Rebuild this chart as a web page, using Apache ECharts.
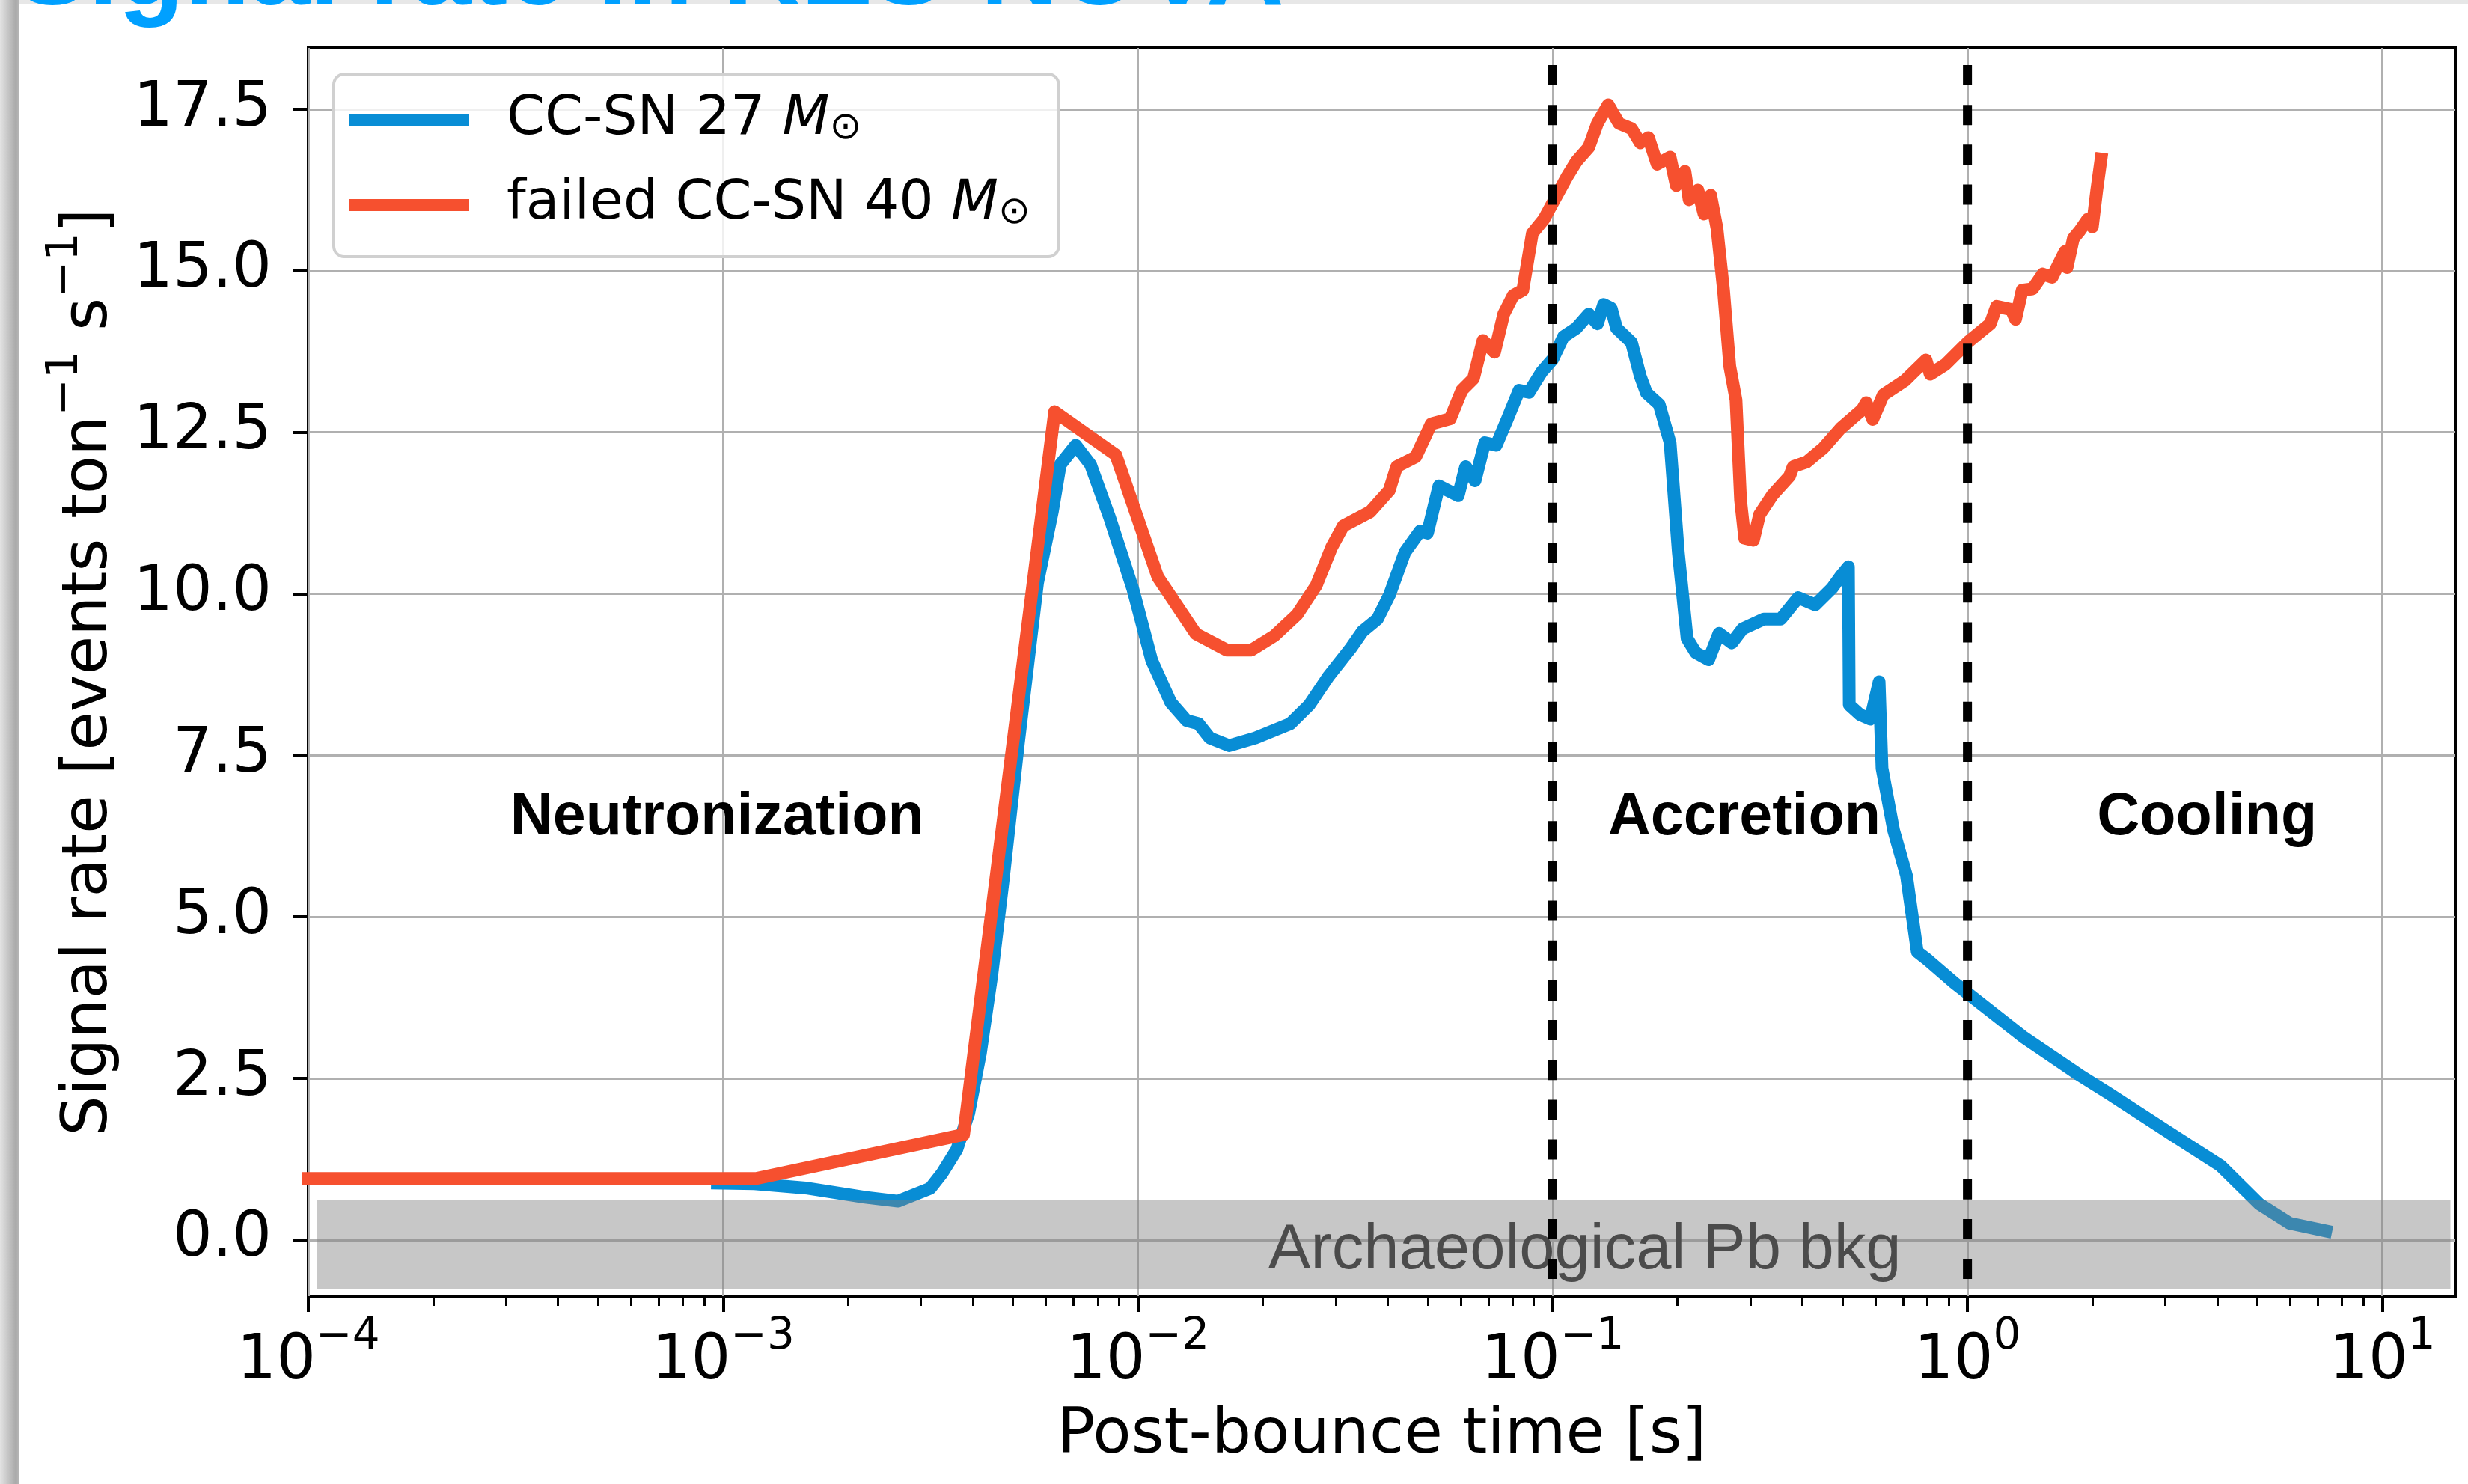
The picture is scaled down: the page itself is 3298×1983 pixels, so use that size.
<!DOCTYPE html>
<html>
<head>
<meta charset="utf-8">
<title>Signal rate in RES-NOVA</title>
<script src="https://cdn.jsdelivr.net/npm/echarts@6/dist/echarts.min.js"></script>
<style>
  html, body { margin: 0; padding: 0; background: #ffffff; }
  #chart { width: 3298px; height: 1983px; }
</style>
</head>
<body>
<div id="chart"></div>
<script>
// ---- data: post-bounce time [s] and signal rate [events ton^-1 s^-1] ----
const ccsnName = 'CC-SN 27 M⊙';
const ccsnTime = [
  0.000969, 0.00119, 0.0016, 0.0022, 0.00264, 0.00316, 0.00337, 0.00366, 0.00391, 0.00417,
  0.00444, 0.00473, 0.00515, 0.00573, 0.00622, 0.0065, 0.00708, 0.00769, 0.00855, 0.00973,
  0.0108, 0.012, 0.0131, 0.014, 0.0149, 0.0166, 0.0192, 0.0233, 0.0259, 0.0288,
  0.0327, 0.0348, 0.0378, 0.0404, 0.044, 0.0479, 0.0499, 0.0532, 0.0592, 0.0617,
  0.065, 0.0686, 0.0731, 0.0778, 0.083, 0.0877, 0.0942, 0.1, 0.1062, 0.114,
  0.1222, 0.1282, 0.1327, 0.1384, 0.1426, 0.1549, 0.1626, 0.1683, 0.1807, 0.1919,
  0.2009, 0.2109, 0.2213, 0.2377, 0.2518, 0.2704, 0.2871, 0.3228, 0.3548, 0.3908,
  0.4295, 0.472, 0.4943, 0.5164, 0.5188, 0.5508, 0.5834, 0.6124, 0.6223, 0.6637,
  0.7129, 0.7568, 0.8035, 0.929, 1.009, 1.358, 1.854, 2.188, 3.133, 4.074,
  5.047, 5.97, 7.31
];
const ccsnRate = [
  0.88, 0.87, 0.80, 0.66, 0.60, 0.80, 1.03, 1.40, 1.96, 2.88,
  4.08, 5.55, 7.68, 10.17, 11.27, 12.0, 12.3, 12.0, 11.18, 10.07,
  8.97, 8.32, 8.04, 7.99, 7.77, 7.65, 7.77, 7.99, 8.28, 8.72,
  9.17, 9.42, 9.61, 9.98, 10.64, 10.97, 10.94, 11.67, 11.52, 11.97,
  11.75, 12.34, 12.3, 12.71, 13.15, 13.12, 13.44, 13.63, 13.98, 14.11,
  14.33, 14.18, 14.48, 14.42, 14.11, 13.89, 13.37, 13.11, 12.93, 12.34,
  10.64, 9.31, 9.09, 8.98, 9.39, 9.24, 9.46, 9.61, 9.61, 9.94,
  9.83, 10.09, 10.27, 10.42, 8.28, 8.13, 8.06, 8.64, 7.30, 6.34,
  5.64, 4.46, 4.33, 3.98, 3.80, 3.15, 2.56, 2.27, 1.62, 1.15,
  0.56, 0.26, 0.14
];

const failedName = 'failed CC-SN 40 M⊙';
const failedTime = [
  0.0001, 0.0012, 0.0038, 0.0063, 0.00885, 0.01117, 0.0138, 0.01637, 0.01879, 0.02133,
  0.02421, 0.02692, 0.02931, 0.03126, 0.03631, 0.04036, 0.04207, 0.04677, 0.05093, 0.05662,
  0.0604, 0.06442, 0.06792, 0.07244, 0.07621, 0.08035, 0.08472, 0.08933, 0.09528, 0.1,
  0.1086, 0.114, 0.1222, 0.1282, 0.1361, 0.1445, 0.1549, 0.1626, 0.1702, 0.1786,
  0.1919, 0.1986, 0.2084, 0.2133, 0.2239, 0.2317, 0.2404, 0.2489, 0.2582, 0.2673,
  0.2767, 0.2838, 0.2904, 0.3048, 0.3155, 0.3388, 0.3724, 0.38, 0.4093, 0.4498,
  0.4943, 0.5572, 0.570, 0.591, 0.6266, 0.7063, 0.7943, 0.813, 0.885, 1.0,
  1.135, 1.175, 1.276, 1.306, 1.355, 1.435, 1.52, 1.6, 1.718, 1.738,
  1.8, 1.866, 1.95, 2.0, 2.05, 2.099
];
const failedRate = [
  0.95, 0.95, 1.63, 12.82, 12.15, 10.26, 9.38, 9.13, 9.13, 9.35,
  9.68, 10.13, 10.72, 11.05, 11.27, 11.6, 11.97, 12.12, 12.63, 12.71,
  13.15, 13.33, 13.92, 13.74, 14.33, 14.62, 14.7, 15.58, 15.8, 16.05,
  16.47, 16.69, 16.91, 17.28, 17.57, 17.28, 17.2, 16.98, 17.06, 16.65,
  16.76, 16.32, 16.54, 16.1, 16.25, 15.88, 16.17, 15.66, 14.7, 13.52,
  13.0, 11.45, 10.86, 10.83, 11.23, 11.53, 11.82, 11.97, 12.04, 12.26,
  12.56, 12.85, 12.96, 12.7, 13.08, 13.3, 13.62, 13.4, 13.55, 13.89,
  14.18, 14.45, 14.4, 14.25, 14.7, 14.72, 14.95, 14.9, 15.3, 15.05,
  15.5, 15.62, 15.8, 15.68, 16.25, 16.73
];

// phase boundaries [s] and phase names
const phaseBoundaries = [0.1, 1.0];
const phaseNames = ['Neutronization', 'Accretion', 'Cooling'];

// archaeological Pb background: rate range and time span
const bkgRate = [-0.76, 0.62];
const bkgTime = [1.05e-4, 14.6];
const bkgName = 'Archaeological Pb bkg';

// axis ticks
const xMajorTicks = [1e-4, 1e-3, 1e-2, 1e-1, 1, 10];
const xMinorTicks = [
  2e-4, 3e-4, 4e-4, 5e-4, 6e-4, 7e-4, 8e-4, 9e-4,
  2e-3, 3e-3, 4e-3, 5e-3, 6e-3, 7e-3, 8e-3, 9e-3,
  2e-2, 3e-2, 4e-2, 5e-2, 6e-2, 7e-2, 8e-2, 9e-2,
  0.2, 0.3, 0.4, 0.5, 0.6, 0.7, 0.8, 0.9,
  2, 3, 4, 5, 6, 7, 8, 9
];
const yTicks = [0, 2.5, 5, 7.5, 10, 12.5, 15, 17.5];

// ---- chart ----
const FONT = 'DejaVu Sans';
const BLUE = '#088dd5';
const RED = '#f6502f';
const GRID = '#b0b0b0';
const TICK_SIZE = 83;
const TITLE_SIZE = 84;

function pairs(ts, vs) { return ts.map((t, i) => [t, vs[i]]); }

function powerLabel(v) {
  const e = Math.round(Math.log10(v));
  const exp = e < 0 ? '\u2212' + (-e) : String(e);
  return '{b|10}{s|' + exp + '}';
}

const supRich = {
  b: { fontFamily: FONT, fontSize: TICK_SIZE, lineHeight: 104, verticalAlign: 'bottom', color: '#000' },
  s: { fontFamily: FONT, fontSize: 58, lineHeight: 58, verticalAlign: 'top', color: '#000' }
};

const chart = echarts.init(document.getElementById('chart'), null, { renderer: 'canvas', width: 3298, height: 1983 });

const option = {
  animation: false,
  backgroundColor: '#ffffff',
  graphic: {
    elements: [
      {
        type: 'rect', z: 100, silent: true,
        shape: { x: 0, y: 0, width: 25, height: 1983 },
        style: {
          fill: { type: 'linear', x: 0, y: 0, x2: 1, y2: 0,
            colorStops: [ { offset: 0, color: '#e3e3e3' }, { offset: 0.85, color: '#a9a9a9' }, { offset: 1, color: '#b6b6b6' } ] }
        }
      },
      {
        type: 'rect', z: 99, silent: true,
        shape: { x: 25, y: 0, width: 3273, height: 6 },
        style: { fill: '#e7e7e7' }
      },
      {
        type: 'text', z: 101, silent: true,
        x: 22, y: -34,
        style: {
          text: 'Signal rate in RES-NOVA',
          font: 'bold 144px "Liberation Sans"',
          fill: '#00a0ff',
          align: 'left',
          verticalAlign: 'middle'
        }
      }
    ]
  },
  grid: {
    left: 412, right: 17, top: 64, bottom: 251,
    show: true, borderColor: '#000', borderWidth: 4, backgroundColor: 'transparent',
    containLabel: false, outerBoundsMode: 'none'
  },
  legend: {
    show: true,
    orient: 'vertical',
    left: 446, top: 99,
    data: [ccsnName, failedName],
    icon: 'rect',
    itemWidth: 160, itemHeight: 16, itemGap: 22,
    itemStyle: { borderWidth: 0 },
    padding: [7, 38, 33, 21],
    backgroundColor: 'rgba(255,255,255,0.8)',
    borderColor: '#d0d0d0', borderWidth: 4, borderRadius: 14,
    selectedMode: false,
    z: 20,
    formatter: function (name) {
      const base = name.replace(/ M⊙$/, '');
      return '{t|' + base + ' }{m|M}{s|⊙}';
    },
    textStyle: {
      fontFamily: FONT, fontSize: 73, color: '#000',
      padding: [0, 0, 0, 45],
      rich: {
        t: { fontFamily: FONT, fontSize: 73, lineHeight: 72, verticalAlign: 'bottom', color: '#000' },
        m: { fontFamily: FONT, fontSize: 73, fontStyle: 'italic', lineHeight: 72, padding: [18, 0, 0, 0], verticalAlign: 'bottom', color: '#000' },
        s: { fontFamily: FONT, fontSize: 51, lineHeight: 22, verticalAlign: 'bottom', color: '#000' }
      }
    }
  },
  xAxis: [
    {
      type: 'log', logBase: 10, min: 1e-4, max: 15,
      position: 'bottom',
      name: 'Post-bounce time [s]',
      nameLocation: 'middle', nameGap: 145,
      nameTextStyle: { fontFamily: FONT, fontSize: TITLE_SIZE, lineHeight: 84, color: '#000' },
      axisLine: { show: false, onZero: false },
      axisTick: { show: true, inside: false, length: 21, customValues: xMajorTicks, lineStyle: { color: '#000', width: 4 } },
      axisLabel: { show: true, margin: 26, customValues: xMajorTicks, formatter: powerLabel, rich: supRich },
      splitLine: { show: true, lineStyle: { color: GRID, width: 3 } },
      minorTick: { show: false }, minorSplitLine: { show: false }
    },
    {
      type: 'log', logBase: 10, min: 1e-4, max: 15,
      position: 'bottom',
      axisLine: { show: false, onZero: false },
      axisTick: { show: true, inside: false, length: 13, customValues: xMinorTicks, lineStyle: { color: '#000', width: 3 } },
      axisLabel: { show: false },
      splitLine: { show: false }
    }
  ],
  yAxis: {
    type: 'value', min: -0.87, max: 18.45,
    position: 'left',
    name: '{t|Signal rate [events ton}{s|\u22121}{t| s}{s|\u22121}{t|]}',
    nameLocation: 'middle', nameRotate: 90, nameGap: 250,
    nameTextStyle: {
      fontFamily: FONT, fontSize: TITLE_SIZE, color: '#000',
      rich: {
        t: { fontFamily: FONT, fontSize: TITLE_SIZE, lineHeight: 104, verticalAlign: 'bottom', color: '#000' },
        s: { fontFamily: FONT, fontSize: 59, lineHeight: 59, verticalAlign: 'top', color: '#000' }
      }
    },
    axisLine: { show: false, onZero: false },
    axisTick: { show: true, inside: false, length: 21, customValues: yTicks, lineStyle: { color: '#000', width: 4 } },
    axisLabel: {
      show: true, margin: 49, customValues: yTicks,
      fontFamily: FONT, fontSize: TICK_SIZE, color: '#000',
      formatter: v => v.toFixed(1)
    },
    splitLine: { show: true, lineStyle: { color: GRID, width: 3 } }
  },
  series: [
    {
      name: ccsnName, type: 'line', z: 2,
      data: pairs(ccsnTime, ccsnRate),
      showSymbol: false, symbol: 'none', smooth: false, clip: true,
      lineStyle: { color: BLUE, width: 17, cap: 'square', join: 'round' },
      itemStyle: { color: BLUE },
      emphasis: { disabled: true }
    },
    {
      name: failedName, type: 'line', z: 3,
      data: pairs(failedTime, failedRate),
      showSymbol: false, symbol: 'none', smooth: false, clip: true,
      lineStyle: { color: RED, width: 17, cap: 'square', join: 'round' },
      itemStyle: { color: RED },
      emphasis: { disabled: true }
    },
    {
      // background band, drawn over the curves with transparency
      name: bkgName, type: 'custom', z: 5, silent: true,
      coordinateSystem: 'cartesian2d',
      data: [[bkgTime[0], bkgTime[1], bkgRate[0], bkgRate[1]]],
      encode: { x: [0, 1], y: [2, 3] },
      renderItem: function (params, api) {
        const p0 = api.coord([api.value(0), api.value(3)]);
        const p1 = api.coord([api.value(1), api.value(2)]);
        return {
          type: 'rect',
          shape: { x: p0[0], y: p0[1], width: p1[0] - p0[0], height: p1[1] - p0[1] },
          style: { fill: 'rgba(128,128,128,0.44)' }
        };
      }
    },
    {
      name: 'bkg-label', type: 'custom', z: 6, silent: true,
      coordinateSystem: 'cartesian2d',
      data: [[0.1195, -0.17]],
      encode: { x: 0, y: 1 },
      renderItem: function (params, api) {
        const p = api.coord([api.value(0), api.value(1)]);
        return {
          type: 'text', x: p[0], y: p[1],
          style: { text: bkgName, fill: '#4b4b4b', font: '85px "Liberation Sans"', align: 'center', verticalAlign: 'middle' }
        };
      }
    },
    {
      name: 'phase-boundaries', type: 'custom', z: 7, silent: true,
      coordinateSystem: 'cartesian2d',
      data: phaseBoundaries.map(t => [t, 0]),
      encode: { x: 0, y: 1 },
      renderItem: function (params, api) {
        const x = api.coord([api.value(0), 0])[0];
        const cs = params.coordSys;
        return {
          type: 'line',
          shape: { x1: x, y1: cs.y, x2: x, y2: cs.y + cs.height },
          style: { stroke: '#000', lineWidth: 12, lineDash: [27, 26.17], lineDashOffset: 30.17 }
        };
      }
    },
    {
      name: 'phase-labels', type: 'custom', z: 8, silent: true,
      coordinateSystem: 'cartesian2d',
      data: [[9.67e-4, 6.53], [0.2897, 6.53], [3.781, 6.53]],
      encode: { x: 0, y: 1 },
      renderItem: function (params, api) {
        const p = api.coord([api.value(0), api.value(1)]);
        return {
          type: 'text', x: p[0], y: p[1],
          style: { text: phaseNames[params.dataIndex], fill: '#000', font: 'bold 79px "Liberation Sans"', align: 'center', verticalAlign: 'middle' }
        };
      }
    }
  ]
};

chart.setOption(option);
</script>
</body>
</html>
